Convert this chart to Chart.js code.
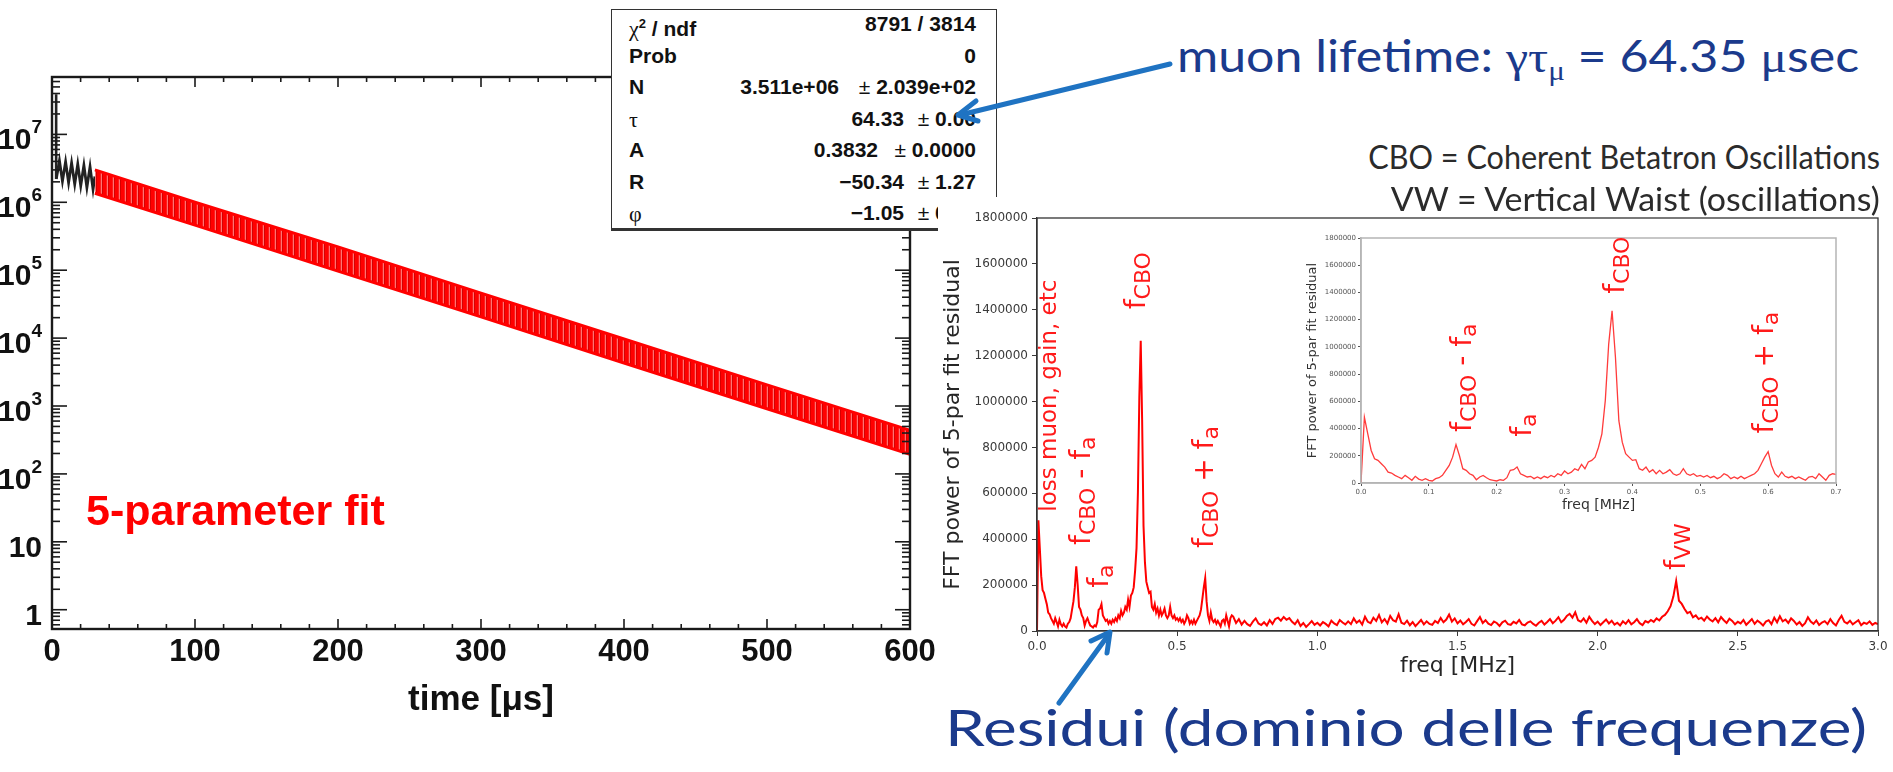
<!DOCTYPE html>
<html>
<head>
<meta charset="utf-8">
<title>g-2 decay fit and FFT of residuals</title>
<script src="https://cdn.jsdelivr.net/npm/chart.js@4.4.1/dist/chart.umd.min.js"></script>
<style>
  body { margin: 0; width: 1893px; height: 772px; overflow: hidden; position: relative; background: #fff; }
  canvas { position: absolute; }
  #decay { left: 0; top: 0; z-index: 1; }
  #stats { position: absolute; left: 611px; top: 9px; width: 386px; height: 222px; box-sizing: border-box;
           border: 1.5px solid #333; border-bottom-width: 3px; background: #fff; z-index: 2;
           font: bold 21px "Liberation Sans", Arial, sans-serif; color: #111; }
  #stats span { position: absolute; line-height: 24px; white-space: nowrap; }
  #stats .gk { font: 22px "Liberation Serif", serif; }
  #stats .pm { font-weight: normal; }
  #fft { left: 938px; top: 197px; z-index: 3; background: #fff; }
  #inset { left: 1290px; top: 225px; z-index: 4; background: #fff; }
  .note { position: absolute; white-space: nowrap; z-index: 5; font-family: Lato, sans-serif; line-height: 1; }
  .note .gk { font-family: "Liberation Serif", serif; }
  .note .sb { font-size: 0.62em; position: relative; top: 0.3em; }
  svg { position: absolute; left: 0; top: 0; z-index: 6; }
</style>
</head>
<body>
<canvas id="decay" width="938" height="772"></canvas>

<div id="stats">
  <span style="left:17px;top:2px"><span class="gk" style="position:static">χ</span><sup style="font-size:13px">2</sup> / ndf</span>
  <span style="right:20px;top:2px">8791 / 3814</span>
  <span style="left:17px;top:34px">Prob</span>
  <span style="right:20px;top:34px">0</span>
  <span style="left:17px;top:65px">N</span>
  <span style="right:157px;top:65px">3.511e+06</span>
  <span style="right:20px;top:65px"><span class="pm" style="position:static">±</span> 2.039e+02</span>
  <span class="gk" style="left:17px;top:97px">τ</span>
  <span style="right:92px;top:97px">64.33</span>
  <span style="right:20px;top:97px"><span class="pm" style="position:static">±</span> 0.00</span>
  <span style="left:17px;top:128px">A</span>
  <span style="right:118px;top:128px">0.3832</span>
  <span style="right:20px;top:128px"><span class="pm" style="position:static">±</span> 0.0000</span>
  <span style="left:17px;top:160px">R</span>
  <span style="right:92px;top:160px">−50.34</span>
  <span style="right:20px;top:160px"><span class="pm" style="position:static">±</span> 1.27</span>
  <span class="gk" style="left:17px;top:191px">φ</span>
  <span style="right:92px;top:191px">−1.05</span>
  <span style="right:20px;top:191px"><span class="pm" style="position:static">±</span> 0.01</span>
</div>

<canvas id="fft" width="955" height="533"></canvas>
<canvas id="inset" width="560" height="290"></canvas>

<div class="note" id="muonNote" style="color:#1b3a8c">muon lifetime: <span class="gk">γτ<span class="sb">μ</span></span> = 64.35 <span class="gk">μ</span>sec</div>
<div class="note" id="cboNote" style="color:#2b2b2b">CBO = Coherent Betatron Oscillations</div>
<div class="note" id="vwNote" style="color:#2b2b2b">VW = Vertical Waist (oscillations)</div>
<div class="note" id="residNote" style="color:#1b3a8c">Residui (dominio delle frequenze)</div>

<svg width="1893" height="772">
  <g stroke="#1f73c2" stroke-width="5" fill="none" stroke-linecap="round" stroke-linejoin="round">
    <line x1="1170" y1="64" x2="960" y2="115"/>
    <polyline points="976,101 958,115 978,121"/>
    <line x1="1059" y1="703" x2="1109" y2="634"/>
    <polyline points="1091,641 1110,632 1107,653"/>
  </g>
</svg>

<script>
// ---- left panel: positron counts vs time (log scale) ----
const timeTicks = [0, 100, 200, 300, 400, 500, 600];
const decadeExp = [0, 1, 2, 3, 4, 5, 6, 7];

// injection flash right after t=0
const spikeTime = [2.9, 2.9];
const spikeCounts = [2.2e6, 3.9e7];

// early data before the fit window (black)
const dataTime = [3.0, 5.2, 7.3, 9.5, 11.6, 13.7, 15.9, 18.0, 20.1, 22.3, 24.4, 26.6, 28.7, 30.0];
const dataCounts = [2.2e6, 4.1e6, 2.05e6, 3.95e6, 1.95e6, 3.8e6, 1.85e6, 3.65e6, 1.75e6, 3.5e6, 1.65e6, 3.35e6, 1.55e6, 2.4e6];

// wiggle envelope of the 5-parameter fit (red band)
const fitTime = [30, 100, 200, 300, 400, 500, 600];
const fitUpper = [3.0e6, 1.0e6, 2.2e5, 4.6e4, 9.7e3, 2.05e3, 4.4e2];
const fitLower = [1.36e6, 4.6e5, 9.7e4, 2.05e4, 4.3e3, 9.1e2, 1.95e2];

// ---- right panel: FFT power of the 5-par fit residual ----
// 0.000 - 0.700 MHz, 0.005 MHz bins
const FINE_STEP = 0.005;
const powerFine = [
  0, 483000, 361000, 239000, 178000, 166000, 141000, 117000, 80000, 73000,
  56000, 44000, 32000, 56000, 39000, 20000, 49000, 29000, 20000, 32000,
  20000, 15000, 32000, 39000, 56000, 93000, 129000, 190000, 282000, 202000,
  105000, 93000, 68000, 56000, 24000, 44000, 56000, 39000, 24000, 20000,
  15000, 24000, 20000, 39000, 93000, 98000, 117000, 68000, 56000, 44000,
  49000, 32000, 44000, 32000, 49000, 39000, 56000, 44000, 68000, 56000,
  88000, 68000, 80000, 105000, 93000, 137000, 105000, 154000, 166000, 190000,
  263000, 361000, 605000, 1019000, 1265000, 922000, 458000, 300000, 215000, 190000,
  166000, 171000, 105000, 93000, 117000, 80000, 98000, 68000, 93000, 68000,
  80000, 98000, 68000, 56000, 68000, 105000, 68000, 56000, 68000, 49000,
  56000, 44000, 56000, 39000, 49000, 32000, 44000, 68000, 56000, 32000,
  44000, 32000, 49000, 32000, 44000, 56000, 68000, 93000, 141000, 190000,
  230000, 129000, 68000, 44000, 80000, 49000, 39000, 49000, 32000, 44000,
  32000, 20000, 44000, 49000, 32000, 68000, 44000, 20000, 56000, 68000,
  63000
];
// 0.71 - 3.00 MHz, 0.01 MHz bins
const COARSE_START = 0.71;
const COARSE_STEP = 0.01;
const powerCoarse = [
  35000, 52000, 28000, 44000, 30000, 22000, 41000, 55000, 33000, 26000,
  38000, 24000, 47000, 31000, 52000, 58000, 45000, 61000, 49000, 56000,
  40000, 29000, 47000, 22000, 35000, 18000, 30000, 43000, 27000, 36000,
  24000, 39000, 31000, 20000, 45000, 33000, 26000, 48000, 37000, 29000,
  42000, 30000, 55000, 36000, 46000, 28000, 62000, 40000, 34000, 58000,
  44000, 70000, 38000, 52000, 33000, 66000, 47000, 41000, 73000, 36000,
  30000, 45000, 25000, 39000, 21000, 34000, 48000, 29000, 42000, 31000,
  27000, 44000, 35000, 57000, 38000, 50000, 72000, 41000, 55000, 33000,
  46000, 29000, 39000, 52000, 31000, 24000, 43000, 61000, 35000, 47000,
  32000, 26000, 41000, 35000, 22000, 38000, 45000, 30000, 27000, 40000,
  33000, 48000, 29000, 25000, 37000, 42000, 31000, 23000, 36000, 44000,
  28000, 39000, 52000, 34000, 45000, 60000, 38000, 49000, 66000, 75000,
  58000, 82000, 47000, 40000, 55000, 36000, 62000, 44000, 30000, 41000,
  26000, 38000, 50000, 33000, 45000, 28000, 36000, 24000, 42000, 31000,
  47000, 29000, 38000, 52000, 34000, 26000, 43000, 37000, 48000, 40000,
  55000, 46000, 62000, 70000, 86000, 108000, 150000, 218000, 132000, 118000,
  96000, 78000, 84000, 60000, 68000, 52000, 58000, 45000, 63000, 50000,
  42000, 56000, 38000, 61000, 47000, 35000, 54000, 44000, 29000, 40000,
  33000, 48000, 27000, 39000, 52000, 31000, 45000, 36000, 24000, 41000,
  47000, 30000, 58000, 38000, 64000, 42000, 50000, 35000, 55000, 44000,
  28000, 39000, 22000, 34000, 60000, 41000, 31000, 46000, 26000, 37000,
  43000, 30000, 52000, 35000, 24000, 48000, 66000, 40000, 33000, 45000,
  29000, 38000, 47000, 25000, 36000, 31000, 42000, 27000, 35000, 30000
];

// peak annotations: text start point in data coordinates
const mainPeakLabels = [
  {freq: 0.069, power: 520000, parts: [['loss muon, gain, etc', 't']]},
  {freq: 0.189, power: 375000, parts: [['f', 'f'], ['CBO', 's'], [' - ', 'f'], ['f', 'f'], ['a', 's']]},
  {freq: 0.253, power: 188000, parts: [['f', 'f'], ['a', 's']]},
  {freq: 0.385, power: 1402000, parts: [['f', 'f'], ['CBO', 's']]},
  {freq: 0.628, power: 362000, parts: [['f', 'f'], ['CBO', 's'], [' + ', 'f'], ['f', 'f'], ['a', 's']]},
  {freq: 2.312, power: 266000, parts: [['f', 'f'], ['VW', 's']]}
];
const insetPeakLabels = [
  {freq: 0.162, power: 375000, parts: [['f', 'f'], ['CBO', 's'], [' - ', 'f'], ['f', 'f'], ['a', 's']]},
  {freq: 0.250, power: 339000, parts: [['f', 'f'], ['a', 's']]},
  {freq: 0.388, power: 1390000, parts: [['f', 'f'], ['CBO', 's']]},
  {freq: 0.607, power: 363000, parts: [['f', 'f'], ['CBO', 's'], [' + ', 'f'], ['f', 'f'], ['a', 's']]}
];
const LABEL_STYLE = {f: {size: 28, shift: 0}, s: {size: 22, shift: 5}, t: {size: 23, shift: 0}};

const xy = (xs, ys) => xs.map((x, i) => ({x: x, y: ys[i]}));

const fftPoints = powerFine.map((p, i) => ({x: +(i * FINE_STEP).toFixed(3), y: p}))
  .concat(powerCoarse.map((p, i) => ({x: +(COARSE_START + i * COARSE_STEP).toFixed(2), y: p})));
const insetPoints = fftPoints.filter(p => p.x <= 0.7);

// ---------------- left panel ----------------
const decayCanvas = document.getElementById('decay');
const dctx = decayCanvas.getContext('2d');

// the wiggle is too dense to resolve, so the band gets a fine stripe texture
function wigglePattern(ctx) {
  const tile = document.createElement('canvas');
  tile.width = 6; tile.height = 6;
  const g = tile.getContext('2d');
  g.fillStyle = '#ff0000';
  g.fillRect(0, 0, 6, 6);
  g.fillStyle = 'rgba(255,190,190,0.75)';
  g.fillRect(4.8, 0, 1, 6);
  g.fillStyle = 'rgba(90,0,0,0.25)';
  g.fillRect(0, 0, 1, 6);
  return ctx.createPattern(tile, 'repeat');
}

function strokeLine(ctx, x1, y1, x2, y2) {
  ctx.beginPath(); ctx.moveTo(x1, y1); ctx.lineTo(x2, y2); ctx.stroke();
}

const rootAxes = {
  id: 'rootAxes',
  afterDraw(chart) {
    const {ctx, chartArea: a, scales: {x, y}} = chart;
    ctx.save();
    ctx.strokeStyle = '#1a1a1a';
    ctx.lineWidth = 2.4;
    ctx.strokeRect(a.left, a.top, a.right - a.left, a.bottom - a.top);

    ctx.lineWidth = 1.6;
    for (let t = 0; t <= 600; t += 20) {
      const px = x.getPixelForValue(t);
      const len = t % 100 === 0 ? 10 : 5;
      strokeLine(ctx, px, a.bottom, px, a.bottom - len);
      strokeLine(ctx, px, a.top, px, a.top + len);
    }
    for (let e = -1; e <= 7; e++) {
      for (let m = 1; m <= 9; m++) {
        const v = m * Math.pow(10, e);
        if (v < y.min || v > y.max) continue;
        const py = y.getPixelForValue(v);
        const len = m === 1 ? 15 : 8;
        strokeLine(ctx, a.left, py, a.left + len, py);
        strokeLine(ctx, a.right, py, a.right - len, py);
      }
    }

    ctx.fillStyle = '#111';
    ctx.textBaseline = 'alphabetic';
    ctx.font = 'bold 31px "Liberation Sans"';
    ctx.textAlign = 'center';
    timeTicks.forEach(t => ctx.fillText(String(t), x.getPixelForValue(t), a.bottom + 32));

    ctx.textAlign = 'right';
    decadeExp.forEach(n => {
      const py = y.getPixelForValue(Math.pow(10, n));
      const right = a.left - 10;
      if (n < 2) {
        ctx.font = 'bold 30px "Liberation Sans"';
        ctx.fillText(n === 0 ? '1' : '10', right, py + 15);
        return;
      }
      ctx.font = 'bold 19px "Liberation Sans"';
      const supW = ctx.measureText(String(n)).width;
      ctx.fillText(String(n), right, py - 1);
      ctx.font = 'bold 30px "Liberation Sans"';
      ctx.fillText('10', right - supW, py + 15);
    });

    ctx.textAlign = 'center';
    ctx.font = 'bold 35px "Liberation Sans"';
    ctx.fillText('time [μs]', (a.left + a.right) / 2, a.bottom + 81);

    ctx.textAlign = 'left';
    ctx.fillStyle = '#ff0000';
    ctx.font = 'bold 43px "Liberation Sans"';
    ctx.fillText('5-parameter fit', a.left + 34, a.bottom - 104);
    ctx.restore();
  }
};

new Chart(dctx, {
  type: 'line',
  data: {
    datasets: [
      {data: xy(fitTime, fitUpper), borderColor: '#ff0000', borderWidth: 3, pointRadius: 0, fill: false, order: 1},
      {data: xy(fitTime, fitLower), borderColor: '#ff0000', borderWidth: 3, pointRadius: 0,
       fill: '-1', backgroundColor: wigglePattern(dctx), order: 1},
      {data: xy(dataTime, dataCounts), borderColor: '#222', borderWidth: 2.8, pointRadius: 0, order: 3},
      {data: xy(spikeTime, spikeCounts), borderColor: '#222', borderWidth: 2.6, pointRadius: 0, order: 3}
    ]
  },
  options: {
    responsive: false,
    animation: false,
    devicePixelRatio: 1,
    layout: {padding: {left: 52, top: 77, right: 28, bottom: 143}},
    scales: {
      x: {type: 'linear', min: 0, max: 600, display: false},
      y: {type: 'logarithmic', min: 0.52, max: 7e7, display: false}
    },
    plugins: {legend: {display: false}, tooltip: {enabled: false}}
  },
  plugins: [rootAxes]
});

// ---------------- FFT panels ----------------
function drawPeakLabels(chart, items) {
  const {ctx, scales: {x, y}} = chart;
  ctx.save();
  ctx.fillStyle = '#ff1a1a';
  ctx.textBaseline = 'alphabetic';
  ctx.textAlign = 'left';
  items.forEach(item => {
    ctx.save();
    ctx.translate(x.getPixelForValue(item.freq), y.getPixelForValue(item.power));
    ctx.rotate(-Math.PI / 2);
    let pos = 0;
    item.parts.forEach(([txt, kind]) => {
      const st = LABEL_STYLE[kind];
      ctx.font = st.size + 'px "DejaVu Sans"';
      ctx.fillText(txt, pos, st.shift);
      pos += ctx.measureText(txt).width;
    });
    ctx.restore();
  });
  ctx.restore();
}

function fftDecor(cfg) {
  return {
    id: 'fftDecor',
    afterDraw(chart) {
      const {ctx, chartArea: a} = chart;
      ctx.save();
      ctx.strokeStyle = cfg.spine;
      ctx.lineWidth = cfg.spineWidth;
      ctx.strokeRect(a.left, a.top, a.right - a.left, a.bottom - a.top);
      ctx.fillStyle = cfg.titleColor;
      ctx.textAlign = 'center';
      ctx.textBaseline = 'middle';
      ctx.font = cfg.titleSize + 'px "DejaVu Sans"';
      ctx.fillText('freq [MHz]', (a.left + a.right) / 2, a.bottom + cfg.xTitleGap);
      ctx.save();
      ctx.translate(a.left - cfg.yTitleGap, (a.top + a.bottom) / 2);
      ctx.rotate(-Math.PI / 2);
      ctx.font = cfg.yTitleSize + 'px "DejaVu Sans"';
      ctx.fillText('FFT power of 5-par fit residual', 0, 0);
      ctx.restore();
      ctx.restore();
      drawPeakLabels(chart, cfg.labels);
    }
  };
}

function fftChart(canvasId, points, o) {
  return new Chart(document.getElementById(canvasId), {
    type: 'line',
    data: {datasets: [{data: points, borderColor: o.lineColor, borderWidth: o.lineWidth, pointRadius: 0, tension: 0}]},
    options: {
      responsive: false,
      animation: false,
      devicePixelRatio: 1,
      layout: {padding: {left: 0, top: o.padTop, right: o.padRight, bottom: 0}},
      scales: {
        x: {
          type: 'linear', min: 0, max: o.xMax,
          ticks: {stepSize: o.xStep, callback: v => v.toFixed(1), maxRotation: 0, autoSkip: false,
                  color: o.tickColor, font: {family: 'DejaVu Sans', size: o.tickSize}, padding: o.tickPad},
          grid: {drawOnChartArea: false, tickLength: o.tickLen, color: o.tickColor, tickWidth: 1},
          border: {color: o.spine, width: o.spineWidth},
          afterFit: s => { s.height = o.xAxisHeight; }
        },
        y: {
          min: 0, max: 1800000,
          ticks: {stepSize: 200000, callback: v => String(v), autoSkip: false,
                  color: o.tickColor, font: {family: 'DejaVu Sans', size: o.tickSize}, padding: o.tickPad},
          grid: {drawOnChartArea: false, tickLength: o.tickLen, color: o.tickColor, tickWidth: 1},
          border: {color: o.spine, width: o.spineWidth},
          afterFit: s => { s.width = o.yAxisWidth; }
        }
      },
      plugins: {legend: {display: false}, tooltip: {enabled: false}}
    },
    plugins: [fftDecor(o)]
  });
}

fftChart('fft', fftPoints, {
  xMax: 3, xStep: 0.5, lineColor: '#ff0000', lineWidth: 2,
  padTop: 21, padRight: 15, xAxisHeight: 99, yAxisWidth: 99,
  tickColor: '#3a3a3a', tickSize: 12, tickPad: 4, tickLen: 5,
  spine: '#333', spineWidth: 1.3,
  titleColor: '#262626', titleSize: 22, xTitleGap: 35, yTitleSize: 22, yTitleGap: 84,
  labels: mainPeakLabels
});

fftChart('inset', insetPoints, {
  xMax: 0.7, xStep: 0.1, lineColor: '#ff3b3b', lineWidth: 1.3,
  padTop: 13, padRight: 14, xAxisHeight: 32, yAxisWidth: 71,
  tickColor: '#555', tickSize: 7, tickPad: 2, tickLen: 3,
  spine: '#b5b5b5', spineWidth: 1.5,
  titleColor: '#333', titleSize: 14, xTitleGap: 22, yTitleSize: 13, yTitleGap: 48,
  labels: insetPeakLabels
});

// ---------------- slide annotations ----------------
// place a text line by its baseline and stretch it to the measured width
function placeNote(id, o) {
  const el = document.getElementById(id);
  el.style.fontSize = o.size + 'px';
  el.style.top = (o.baseline - 0.887 * o.size) + 'px';
  const w = el.getBoundingClientRect().width;
  const k = o.width / w;
  if (o.left !== undefined) {
    el.style.left = o.left + 'px';
    el.style.transformOrigin = 'left center';
  } else {
    el.style.left = (o.right - w) + 'px';
    el.style.transformOrigin = 'right center';
  }
  el.style.transform = 'scaleX(' + k.toFixed(3) + ')';
}

placeNote('muonNote', {left: 1177, baseline: 72, size: 44, width: 682});
placeNote('cboNote', {right: 1880, baseline: 169, size: 33, width: 512});
placeNote('vwNote', {right: 1880, baseline: 211, size: 33, width: 489});
placeNote('residNote', {left: 945, baseline: 746, size: 50, width: 922});
</script>
</body>
</html>
